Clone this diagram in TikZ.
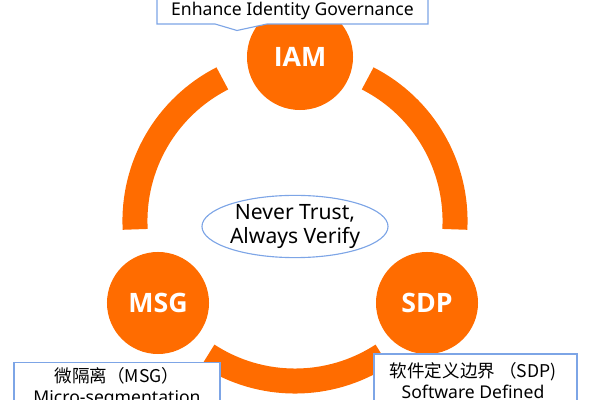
\documentclass[tikz,border=0pt]{standalone}
\usepackage{fontspec}
\setmainfont{Noto Sans}
\newfontfamily\cjk{Noto Sans CJK SC}
\newfontfamily\hubfont{Open Sans}
\usetikzlibrary{shapes.geometric}

\definecolor{zorange}{RGB}{255,108,0}
\definecolor{zblue}{RGB}{125,165,230}

\tikzset{
    ring/.style={draw=zorange, line width=0.625cm},
    hub/.style={circle, fill=zorange, text=white, font=\hubfont\bfseries\fontsize{19}{19}\selectfont, inner sep=0pt},
    note/.style={font=\fontsize{12.5}{15}\selectfont, align=center, inner sep=0pt},
    notebox/.style={draw=zblue, fill=white, line width=0.8pt}
}

\begin{document}
\begin{tikzpicture}[x=0.025cm, y=0.025cm]
    \useasboundingbox (0,0) rectangle (600,400);
    % ring round the three hubs
    \coordinate (c) at (295,179);
    \draw[ring] ([shift={(117:4cm)}]c) arc[start angle=117, end angle=183, radius=4cm];
    \draw[ring] ([shift={(237:4cm)}]c) arc[start angle=237, end angle=303, radius=4cm];
    \draw[ring] ([shift={(-3:4cm)}]c) arc[start angle=-3, end angle=63, radius=4cm];
    % hubs
    \node[hub, minimum size=2.65cm] (iam) at (300,343) {IAM};
    \node[hub, minimum size=2.55cm] (msg) at (158,97) {MSG};
    \node[hub, minimum size=2.55cm] (sdp) at (427,97) {SDP};
    % centre
    \node[ellipse, draw=zblue, line width=0.8pt, minimum width=4.65cm, minimum height=1.425cm,
          inner sep=0pt, align=center, font=\fontsize{15}{17}\selectfont] (core) at (295,173.5)
          {Never Trust,\\Always Verify};
    % top note with tail
    \draw[notebox] (157,410) -- (157,376) % left
        -- (215,376) -- (237,369.5) -- (267,376) % tail
        -- (428,376) -- (428,410); % right
    \node[note] (gov) at (292.5,389) {Enhance Identity Governance};
    % bottom left note
    \draw[notebox] (14,-10) rectangle (220,37.5);
    \node[note] (msgtxt) at (117,12) {{\cjk 微隔离（MSG）}\\Micro-segmentation};
    % bottom right note
    \draw[notebox] (374,-10) rectangle (577,46);
    \node[note] (sdptxt) at (473,19) {{\cjk 软件定义边界 （SDP)}\\Software Defined};
\end{tikzpicture}
\end{document}
